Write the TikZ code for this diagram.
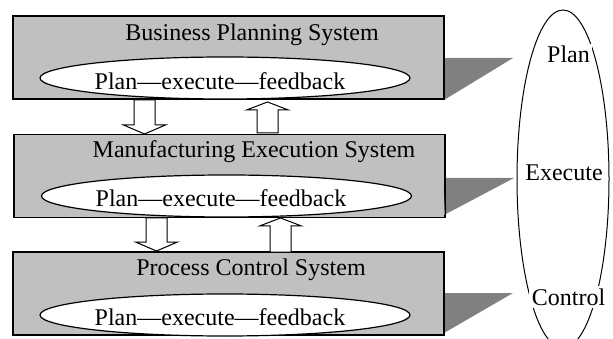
\documentclass[tikz,border=0pt]{standalone}
\usepackage{fontspec}
\setmainfont{Liberation Serif}
\usetikzlibrary{shapes.geometric}
\definecolor{boxgray}{HTML}{C0C0C0}
\definecolor{shadegray}{HTML}{808080}
\newcommand\DownArr[3]{%
  \draw[blockarr] (#1-10.5,#2) -- (#1+10.5,#2) -- (#1+10.5,#3-9) -- (#1+21,#3-9) -- (#1,#3) -- (#1-21,#3-9) -- (#1-10.5,#3-9) -- cycle;}
\newcommand\UpArr[3]{%
  \draw[blockarr] (#1-10.5,#2) -- (#1+10.5,#2) -- (#1+10.5,#3+8) -- (#1+21,#3+8) -- (#1,#3) -- (#1-21,#3+8) -- (#1-10.5,#3+8) -- cycle;}
\begin{document}
\begin{tikzpicture}[x=1pt,y=-1pt,
  every node/.style={font=\fontsize{24}{28}\selectfont},
  sysbox/.style={draw=black, line width=1.3pt, fill=boxgray, rectangle, minimum width=431pt, minimum height=83pt, inner sep=0pt},
  loopell/.style={draw=black, line width=1.2pt, fill=white, ellipse, minimum width=370pt, minimum height=42pt, inner sep=0pt},
  shade/.style={fill=shadegray, draw=none},
  blockarr/.style={draw=black, line width=1pt, fill=white, line join=miter},
  lbl/.style={anchor=base, inner sep=0pt},
  cyclbl/.style={anchor=base, fill=white, inner sep=2.5pt}]
\useasboundingbox (0,0) rectangle (613,339);
% boxes
\node[sysbox] (b1) at (228.5,57.5) {};
\node[sysbox] (b2) at (229.5,176) {};
\node[sysbox] (b3) at (228.5,293.5) {};
% shadows
\fill[shade] (b1.east |- 0,58) -- (513,58) -- (b1.south east) -- cycle;
\fill[shade] (b2.east |- 0,178) -- (514,178) -- (444,215) -- cycle;
\fill[shade] (b3.east |- 0,293) -- (513,293) -- (444,333) -- cycle;
\draw[line width=1.3pt] (b1.north east) -- (b1.south east);
\draw[line width=1.3pt] (b2.north east) -- (b2.south east);
\draw[line width=1.3pt] (b3.north east) -- (b3.south east);
% titles
\node[lbl] (t1) at (252,41) {Business Planning System};
\node[lbl] (t2) at (254,158) {Manufacturing Execution System};
\node[lbl] (t3) at (251,275) {Process Control System};
% inner loops
\node[loopell] (e1) at (225,78) {};
\node[loopell] (e2) at (226.5,196) {};
\node[loopell] (e3) at (225,315) {};
\node[lbl] (p1) at (220,90) {Plan—execute—feedback};
\node[lbl] (p2) at (221,207) {Plan—execute—feedback};
\node[lbl] (p3) at (220,325) {Plan—execute—feedback};
% block arrows
\DownArr{144.5}{100}{134}
\UpArr{267.5}{133}{102}
\DownArr{156.5}{218}{251}
\UpArr{280.5}{252}{218}
% right cycle
\node[draw=black, line width=1pt, ellipse, minimum width=92pt, minimum height=338pt, inner sep=0pt] (cyc) at (563,179) {};
\node[cyclbl] (plan) at (568.5,63) {Plan};
\node[lbl] (exec) at (564,181) {Execute};
\node[cyclbl] (ctrl) at (568.5,305) {Control};
\end{tikzpicture}
\end{document}
